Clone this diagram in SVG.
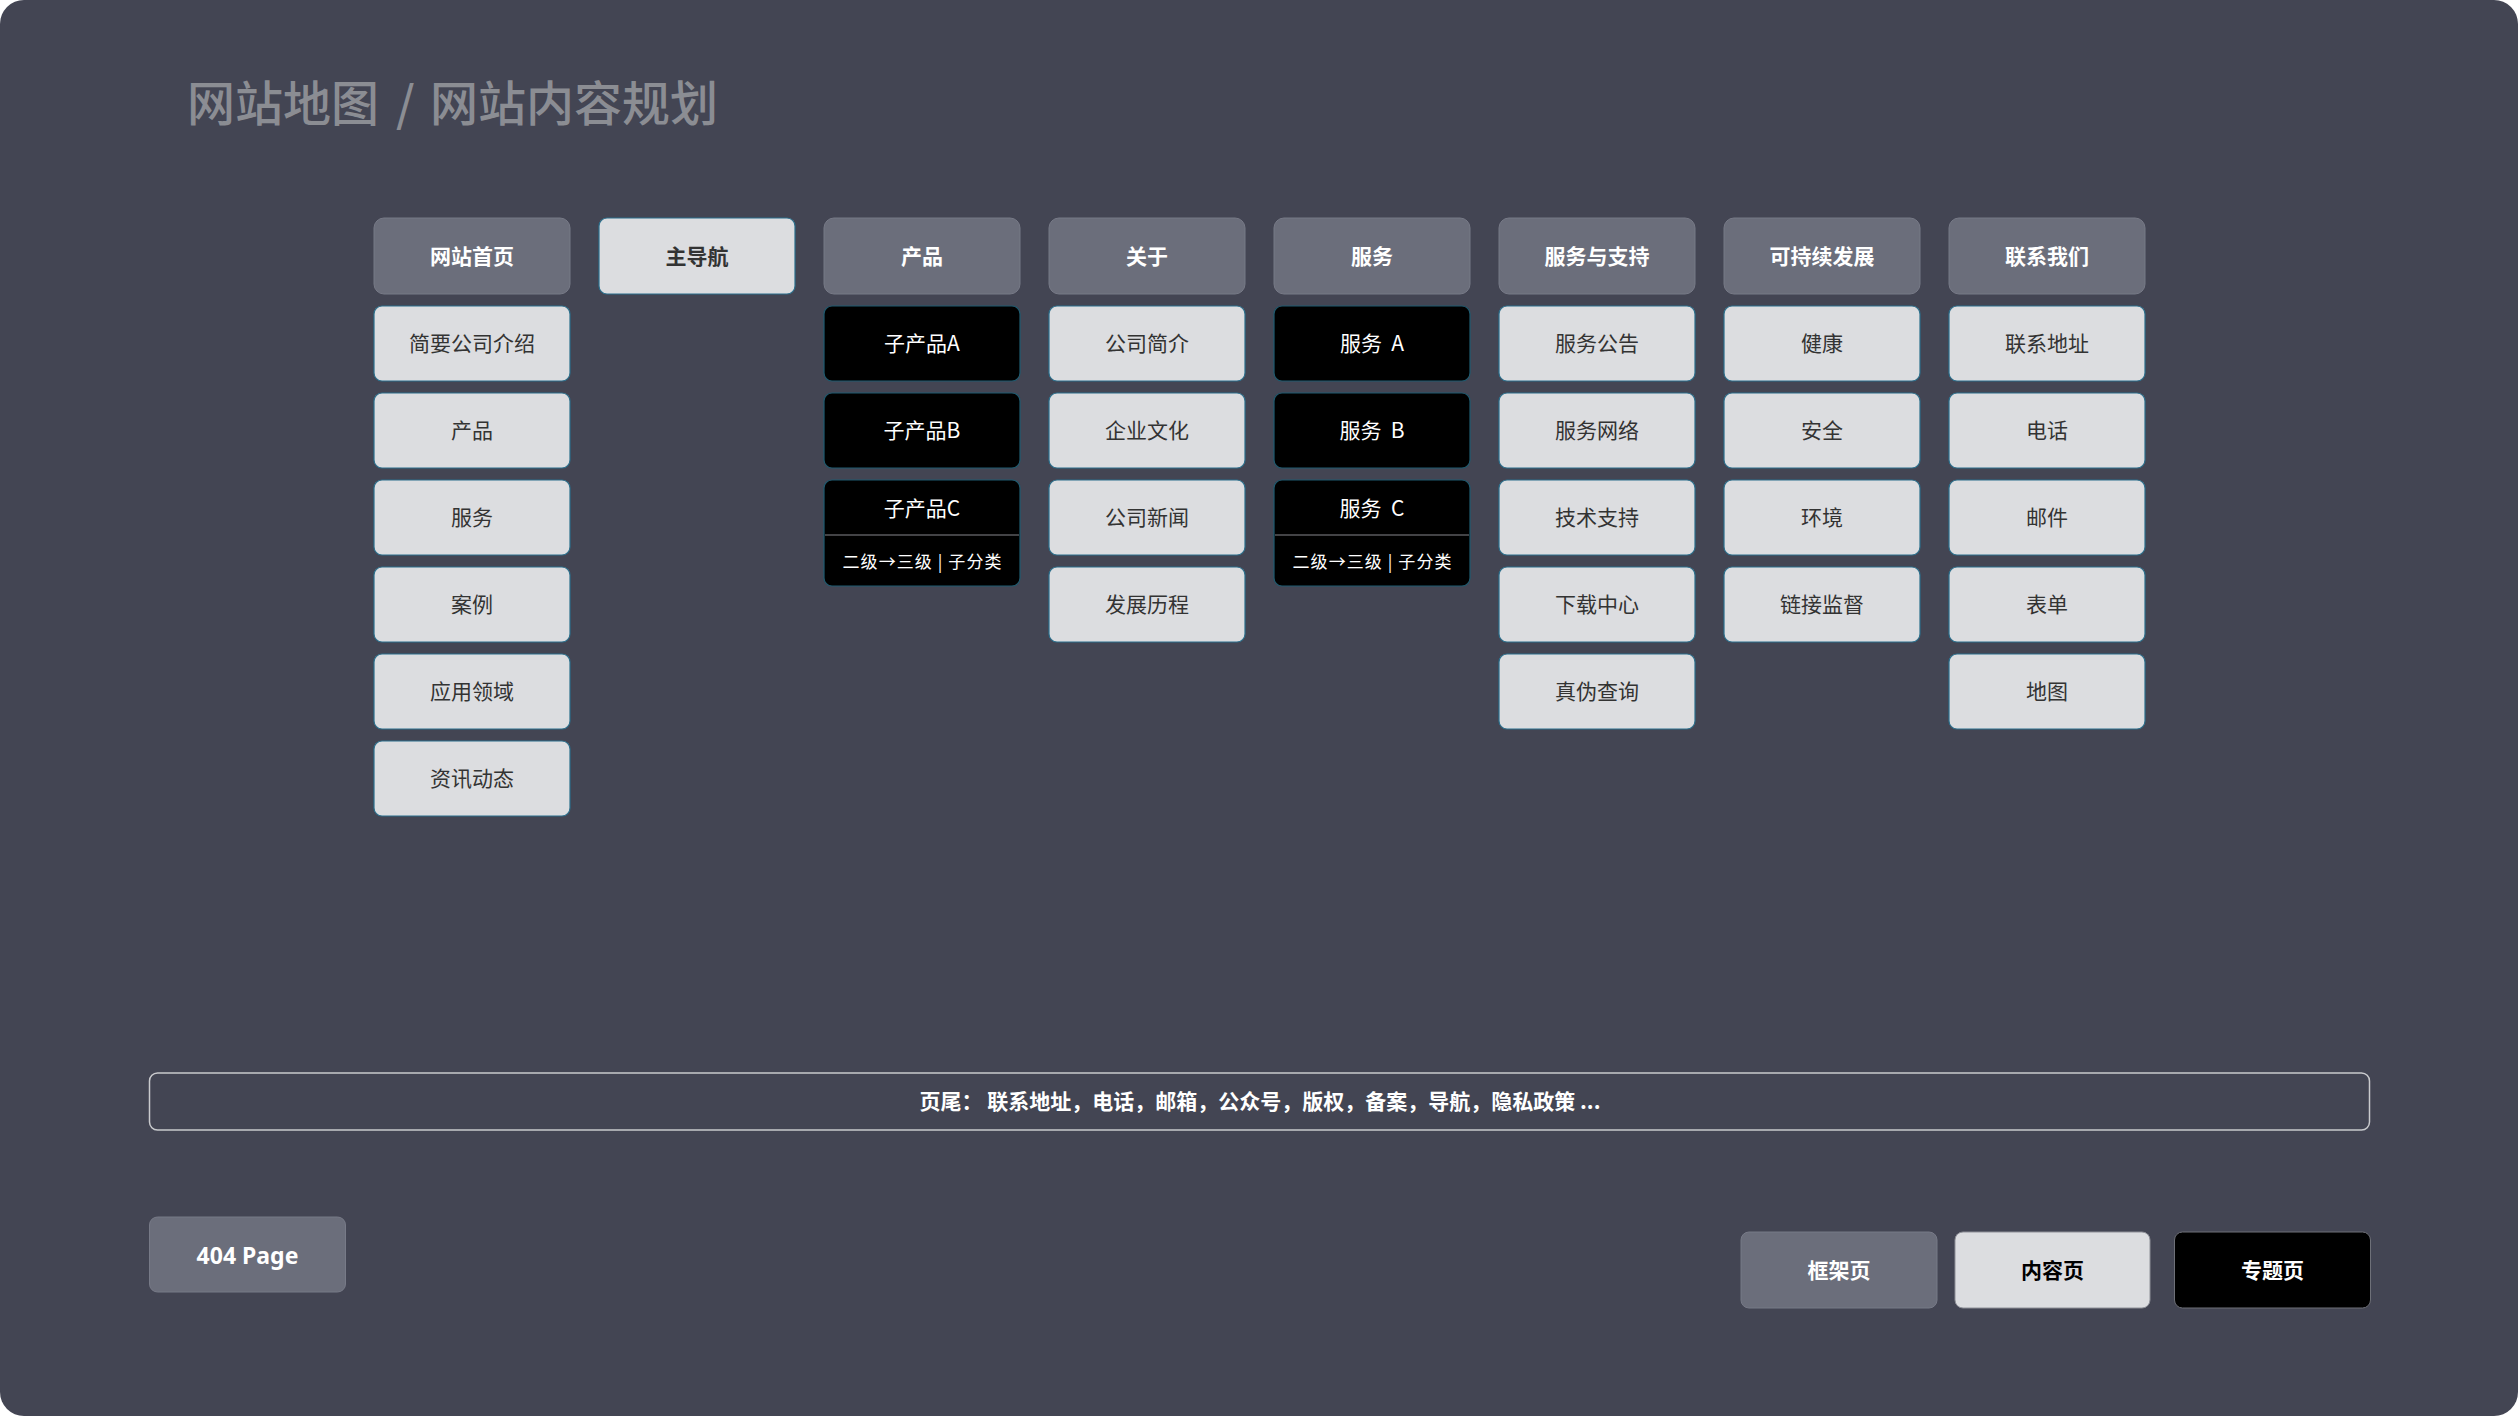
<svg xmlns="http://www.w3.org/2000/svg" width="2520" height="1418" viewBox="0 0 2520 1418">
<style>
text{font-family:"Noto Sans CJK SC","Noto Sans",sans-serif;text-anchor:middle;dominant-baseline:central}
.hd rect{fill:#6b6e7b;stroke:#777a87;stroke-width:1}
.hd text{fill:#ffffff;font-size:21px;font-weight:bold}
.lt rect{fill:#dcdde0;stroke:#2b6f8c;stroke-width:1.2}
.lt text{fill:#333333;font-size:21px}
.bk rect{fill:#000000;stroke:#1f5b70;stroke-width:1.2}
.bk text{fill:#ffffff;font-size:21px}
.bk text.sub{font-size:17px}
</style>
<rect x="0" y="0" width="2520" height="1418" fill="#ffffff"/>
<rect x="0" y="0" width="2518" height="1416" rx="24" fill="#434553"/>
<text y="100" style="text-anchor:start;font-size:48px;fill:#8b8d93;font-weight:500"><tspan x="187">网站地图</tspan><tspan x="396">/</tspan><tspan x="430">网站内容规划</tspan></text>

<g id="connectors"></g>

<!-- column 0 -->
<g id="n-home" class="hd"><rect x="374" y="218" width="196" height="76" rx="10"/><text x="472" y="254.5">网站首页</text></g>
<g id="n-home-1" class="lt"><rect x="374" y="306" width="196" height="75" rx="8"/><text x="472" y="342">简要公司介绍</text></g>
<g id="n-home-2" class="lt"><rect x="374" y="393" width="196" height="75" rx="8"/><text x="472" y="429">产品</text></g>
<g id="n-home-3" class="lt"><rect x="374" y="480" width="196" height="75" rx="8"/><text x="472" y="516">服务</text></g>
<g id="n-home-4" class="lt"><rect x="374" y="567" width="196" height="75" rx="8"/><text x="472" y="603">案例</text></g>
<g id="n-home-5" class="lt"><rect x="374" y="654" width="196" height="75" rx="8"/><text x="472" y="690">应用领域</text></g>
<g id="n-home-6" class="lt"><rect x="374" y="741" width="196" height="75" rx="8"/><text x="472" y="777">资讯动态</text></g>

<!-- column 1 -->
<g id="n-nav" class="lt"><rect x="599" y="218" width="196" height="76" rx="8"/><text x="697" y="254.5" style="font-weight:bold">主导航</text></g>

<!-- column 2 -->
<g id="n-prod" class="hd"><rect x="824" y="218" width="196" height="76" rx="10"/><text x="922" y="254.5">产品</text></g>
<g id="n-prod-a" class="bk"><rect x="824" y="306" width="196" height="75" rx="8"/><text x="922" y="342">子产品A</text></g>
<g id="n-prod-b" class="bk"><rect x="824" y="393" width="196" height="75" rx="8"/><text x="922" y="429">子产品B</text></g>
<g id="n-prod-c" class="bk"><rect x="824" y="480" width="196" height="106" rx="8"/><line x1="825" y1="535" x2="1019" y2="535" stroke="#5a5a5e" stroke-width="1.5"/><text x="922" y="506.5">子产品C</text><text class="sub" x="922" y="560" textLength="159" lengthAdjust="spacing">二级→三级 | 子分类</text></g>

<!-- column 3 -->
<g id="n-about" class="hd"><rect x="1049" y="218" width="196" height="76" rx="10"/><text x="1147" y="254.5">关于</text></g>
<g id="n-about-1" class="lt"><rect x="1049" y="306" width="196" height="75" rx="8"/><text x="1147" y="342">公司简介</text></g>
<g id="n-about-2" class="lt"><rect x="1049" y="393" width="196" height="75" rx="8"/><text x="1147" y="429">企业文化</text></g>
<g id="n-about-3" class="lt"><rect x="1049" y="480" width="196" height="75" rx="8"/><text x="1147" y="516">公司新闻</text></g>
<g id="n-about-4" class="lt"><rect x="1049" y="567" width="196" height="75" rx="8"/><text x="1147" y="603">发展历程</text></g>

<!-- column 4 -->
<g id="n-svc" class="hd"><rect x="1274" y="218" width="196" height="76" rx="10"/><text x="1372" y="254.5">服务</text></g>
<g id="n-svc-a" class="bk"><rect x="1274" y="306" width="196" height="75" rx="8"/><text x="1372" y="342" xml:space="preserve">服务  A</text></g>
<g id="n-svc-b" class="bk"><rect x="1274" y="393" width="196" height="75" rx="8"/><text x="1372" y="429" xml:space="preserve">服务  B</text></g>
<g id="n-svc-c" class="bk"><rect x="1274" y="480" width="196" height="106" rx="8"/><line x1="1275" y1="535" x2="1469" y2="535" stroke="#5a5a5e" stroke-width="1.5"/><text x="1372" y="506.5" xml:space="preserve">服务  C</text><text class="sub" x="1372" y="560" textLength="159" lengthAdjust="spacing">二级→三级 | 子分类</text></g>

<!-- column 5 -->
<g id="n-support" class="hd"><rect x="1499" y="218" width="196" height="76" rx="10"/><text x="1597" y="254.5">服务与支持</text></g>
<g id="n-support-1" class="lt"><rect x="1499" y="306" width="196" height="75" rx="8"/><text x="1597" y="342">服务公告</text></g>
<g id="n-support-2" class="lt"><rect x="1499" y="393" width="196" height="75" rx="8"/><text x="1597" y="429">服务网络</text></g>
<g id="n-support-3" class="lt"><rect x="1499" y="480" width="196" height="75" rx="8"/><text x="1597" y="516">技术支持</text></g>
<g id="n-support-4" class="lt"><rect x="1499" y="567" width="196" height="75" rx="8"/><text x="1597" y="603">下载中心</text></g>
<g id="n-support-5" class="lt"><rect x="1499" y="654" width="196" height="75" rx="8"/><text x="1597" y="690">真伪查询</text></g>

<!-- column 6 -->
<g id="n-sust" class="hd"><rect x="1724" y="218" width="196" height="76" rx="10"/><text x="1822" y="254.5">可持续发展</text></g>
<g id="n-sust-1" class="lt"><rect x="1724" y="306" width="196" height="75" rx="8"/><text x="1822" y="342">健康</text></g>
<g id="n-sust-2" class="lt"><rect x="1724" y="393" width="196" height="75" rx="8"/><text x="1822" y="429">安全</text></g>
<g id="n-sust-3" class="lt"><rect x="1724" y="480" width="196" height="75" rx="8"/><text x="1822" y="516">环境</text></g>
<g id="n-sust-4" class="lt"><rect x="1724" y="567" width="196" height="75" rx="8"/><text x="1822" y="603">链接监督</text></g>

<!-- column 7 -->
<g id="n-contact" class="hd"><rect x="1949" y="218" width="196" height="76" rx="10"/><text x="2047" y="254.5">联系我们</text></g>
<g id="n-contact-1" class="lt"><rect x="1949" y="306" width="196" height="75" rx="8"/><text x="2047" y="342">联系地址</text></g>
<g id="n-contact-2" class="lt"><rect x="1949" y="393" width="196" height="75" rx="8"/><text x="2047" y="429">电话</text></g>
<g id="n-contact-3" class="lt"><rect x="1949" y="480" width="196" height="75" rx="8"/><text x="2047" y="516">邮件</text></g>
<g id="n-contact-4" class="lt"><rect x="1949" y="567" width="196" height="75" rx="8"/><text x="2047" y="603">表单</text></g>
<g id="n-contact-5" class="lt"><rect x="1949" y="654" width="196" height="75" rx="8"/><text x="2047" y="690">地图</text></g>

<!-- footer -->
<g id="n-footer"><rect x="149.5" y="1073" width="2220" height="57" rx="8" fill="none" stroke="#c9cacd" stroke-width="1.5"/><text x="1260" y="1100" style="fill:#ffffff;font-size:21px;font-weight:bold">页尾： 联系地址，电话，邮箱，公众号，版权，备案，导航，隐私政策 ...</text></g>

<!-- 404 -->
<g id="n-404" class="hd"><rect x="149.5" y="1217" width="196" height="75" rx="8"/><text x="247.5" y="1254.5" style="font-family:'Noto Sans',sans-serif;font-size:23px">404 Page</text></g>

<!-- legend -->
<g id="n-legend-frame" class="hd"><rect x="1741" y="1232" width="196" height="76" rx="8"/><text x="1839" y="1268.5">框架页</text></g>
<g id="n-legend-content"><rect x="1955" y="1232" width="195" height="76" rx="8" fill="#dcdde0" stroke="#8e9098" stroke-width="1"/><text x="2052.5" y="1268.5" style="fill:#000000;font-size:21px;font-weight:bold">内容页</text></g>
<g id="n-legend-topic"><rect x="2174.5" y="1232" width="196" height="76" rx="8" fill="#000000" stroke="#6e7078" stroke-width="1"/><text x="2272.5" y="1268.5" style="fill:#ffffff;font-size:21px;font-weight:bold">专题页</text></g>
</svg>
